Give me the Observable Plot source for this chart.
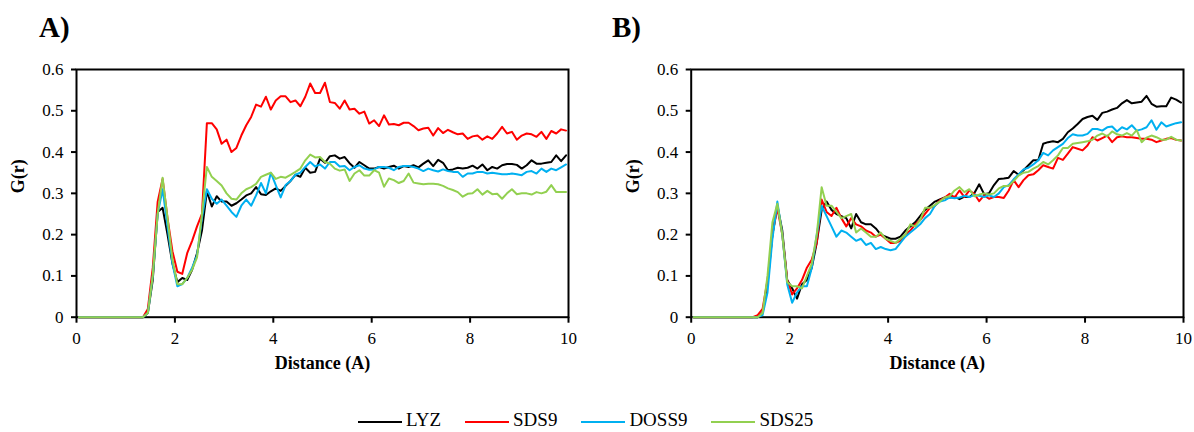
<!DOCTYPE html>
<html>
<head>
<meta charset="utf-8">
<script src="https://cdn.jsdelivr.net/npm/d3@7"></script>
<script src="https://cdn.jsdelivr.net/npm/@observablehq/plot@0.6"></script>
<style>
  html, body { margin: 0; padding: 0; background: #fff; }
  body { font-family: "Liberation Serif", "Times New Roman", serif; color: #000; }
  #wrap { position: relative; width: 1194px; height: 432px; overflow: hidden; background: #fff; }
  .panel { position: absolute; top: 0; }
  .plabel { position: absolute; font-weight: bold; font-size: 29px; line-height: 29px; }
  #legend { position: absolute; left: 358px; top: 410px; display: flex; align-items: center;
            font-size: 19px; line-height: 19px; white-space: nowrap; }
  #legend .sw { display: inline-block; width: 44px; height: 2px; margin-right: 4px; position: relative; top: 2px; }
  #legend .tx { margin-right: 24px; }
</style>
</head>
<body>
<div id="wrap">
  <div id="pA" class="panel" style="left:0px"></div>
  <div id="pB" class="panel" style="left:597px"></div>
  <div class="plabel" style="left:39px; top:13px">A)</div>
  <div class="plabel" style="left:612px; top:13px">B)</div>
  <div id="legend"></div>
</div>
<script>
// Distance grid (Å), bin centres
const distance = [
  0.05,0.15,0.25,0.35,0.45,0.55,0.65,0.75,0.85,0.95,
  1.05,1.15,1.25,1.35,1.45,1.55,1.65,1.75,1.85,1.95,
  2.05,2.15,2.25,2.35,2.45,2.55,2.65,2.75,2.85,2.95,
  3.05,3.15,3.25,3.35,3.45,3.55,3.65,3.75,3.85,3.95,
  4.05,4.15,4.25,4.35,4.45,4.55,4.65,4.75,4.85,4.95,
  5.05,5.15,5.25,5.35,5.45,5.55,5.65,5.75,5.85,5.95,
  6.05,6.15,6.25,6.35,6.45,6.55,6.65,6.75,6.85,6.95,
  7.05,7.15,7.25,7.35,7.45,7.55,7.65,7.75,7.85,7.95,
  8.05,8.15,8.25,8.35,8.45,8.55,8.65,8.75,8.85,8.95,
  9.05,9.15,9.25,9.35,9.45,9.55,9.65,9.75,9.85,9.95
];

const seriesNames = ["LYZ", "SDS9", "DOSS9", "SDS25"];
const seriesColors = ["#000000", "#ff0000", "#00b0f0", "#92d050"];
const panelLabels = ["A)", "B)"];
const xTicks = [0, 2, 4, 6, 8, 10];
const yTicks = [0, 0.1, 0.2, 0.3, 0.4, 0.5, 0.6];
const xLabel = "Distance (A)";
const yLabel = "G(r)";

// Panel A
const lyzA = [
  0,0,0,0,0,0,0,0,0,0,
  0,0,0,0,0.01,0.09,0.255,0.265,0.2,0.13,
  0.085,0.095,0.09,0.115,0.155,0.21,0.305,0.268,0.293,0.28,
  0.28,0.27,0.276,0.285,0.295,0.30,0.315,0.298,0.296,0.305,
  0.312,0.306,0.318,0.33,0.345,0.34,0.362,0.35,0.352,0.384,
  0.374,0.39,0.392,0.384,0.388,0.373,0.362,0.376,0.368,0.36,
  0.36,0.364,0.36,0.364,0.367,0.36,0.366,0.364,0.368,0.363,
  0.372,0.38,0.366,0.381,0.374,0.356,0.358,0.362,0.36,0.362,
  0.367,0.36,0.37,0.356,0.364,0.36,0.368,0.371,0.371,0.369,
  0.36,0.368,0.38,0.372,0.372,0.374,0.376,0.392,0.378,0.392
];
const sds9A = [
  0,0,0,0,0,0,0,0,0,0,
  0,0,0,0,0.02,0.12,0.28,0.335,0.24,0.16,
  0.11,0.105,0.155,0.185,0.22,0.25,0.47,0.47,0.455,0.42,
  0.43,0.40,0.41,0.44,0.465,0.485,0.515,0.51,0.534,0.503,
  0.525,0.535,0.535,0.521,0.525,0.511,0.534,0.566,0.543,0.543,
  0.568,0.521,0.519,0.505,0.525,0.503,0.505,0.493,0.498,0.469,
  0.477,0.463,0.489,0.467,0.468,0.465,0.471,0.471,0.463,0.453,
  0.457,0.459,0.44,0.458,0.446,0.454,0.448,0.443,0.445,0.432,
  0.438,0.44,0.43,0.438,0.432,0.445,0.461,0.445,0.449,0.43,
  0.44,0.445,0.443,0.437,0.449,0.432,0.451,0.445,0.455,0.452
];
const doss9A = [
  0,0,0,0,0,0,0,0,0,0,
  0,0,0,0,0.01,0.1,0.25,0.31,0.22,0.13,
  0.075,0.08,0.095,0.12,0.15,0.24,0.31,0.287,0.275,0.285,
  0.27,0.255,0.243,0.27,0.285,0.27,0.295,0.325,0.30,0.35,
  0.32,0.29,0.32,0.33,0.345,0.35,0.364,0.376,0.365,0.37,
  0.36,0.376,0.376,0.365,0.366,0.356,0.364,0.368,0.36,0.357,
  0.358,0.364,0.364,0.362,0.356,0.364,0.366,0.366,0.364,0.36,
  0.354,0.36,0.356,0.353,0.358,0.354,0.352,0.352,0.34,0.348,
  0.348,0.352,0.352,0.348,0.35,0.348,0.346,0.346,0.348,0.346,
  0.344,0.352,0.354,0.348,0.36,0.352,0.36,0.356,0.363,0.37
];
const sds25A = [
  0,0,0,0,0,0,0,0,0,0,
  0,0,0,0,0.01,0.1,0.25,0.338,0.24,0.14,
  0.08,0.08,0.095,0.115,0.145,0.25,0.364,0.34,0.33,0.319,
  0.30,0.287,0.285,0.30,0.31,0.315,0.323,0.34,0.345,0.35,
  0.335,0.34,0.338,0.345,0.352,0.36,0.38,0.394,0.387,0.388,
  0.376,0.372,0.36,0.355,0.358,0.33,0.348,0.356,0.343,0.343,
  0.356,0.35,0.316,0.336,0.332,0.325,0.33,0.348,0.326,0.324,
  0.322,0.323,0.323,0.322,0.318,0.312,0.308,0.303,0.292,0.299,
  0.30,0.31,0.297,0.306,0.298,0.299,0.287,0.30,0.31,0.298,
  0.30,0.30,0.297,0.303,0.30,0.304,0.32,0.303,0.303,0.303
];

// Panel B
const lyzB = [
  0,0,0,0,0,0,0,0,0,0,
  0,0,0,0,0.01,0.08,0.2,0.27,0.21,0.09,
  0.07,0.045,0.08,0.09,0.12,0.18,0.26,0.28,0.26,0.25,
  0.245,0.24,0.215,0.25,0.23,0.225,0.225,0.215,0.2,0.195,
  0.19,0.19,0.195,0.21,0.22,0.23,0.245,0.26,0.27,0.28,
  0.285,0.29,0.29,0.292,0.286,0.292,0.291,0.30,0.322,0.298,
  0.30,0.32,0.335,0.336,0.338,0.354,0.345,0.356,0.368,0.38,
  0.38,0.42,0.424,0.426,0.424,0.432,0.448,0.457,0.468,0.48,
  0.485,0.488,0.478,0.495,0.498,0.503,0.507,0.518,0.526,0.518,
  0.52,0.522,0.536,0.517,0.51,0.511,0.511,0.532,0.527,0.52
];
const sds9B = [
  0,0,0,0,0,0,0,0,0,0,
  0,0,0,0.005,0.02,0.09,0.2,0.265,0.2,0.09,
  0.055,0.07,0.09,0.12,0.14,0.18,0.285,0.255,0.245,0.265,
  0.24,0.22,0.24,0.225,0.22,0.21,0.205,0.195,0.2,0.19,
  0.18,0.18,0.185,0.2,0.21,0.225,0.235,0.25,0.265,0.27,
  0.283,0.29,0.299,0.29,0.307,0.291,0.307,0.299,0.281,0.295,
  0.287,0.291,0.291,0.289,0.307,0.332,0.315,0.332,0.344,0.346,
  0.356,0.368,0.364,0.36,0.386,0.381,0.396,0.412,0.408,0.404,
  0.416,0.436,0.428,0.434,0.44,0.424,0.436,0.438,0.436,0.436,
  0.434,0.432,0.432,0.43,0.424,0.428,0.432,0.434,0.43,0.428
];
const doss9B = [
  0,0,0,0,0,0,0,0,0,0,
  0,0,0,0,0.005,0.06,0.19,0.28,0.2,0.08,
  0.035,0.06,0.075,0.075,0.12,0.2,0.27,0.245,0.22,0.195,
  0.21,0.205,0.195,0.185,0.19,0.175,0.18,0.165,0.17,0.165,
  0.162,0.165,0.18,0.195,0.205,0.215,0.225,0.24,0.25,0.27,
  0.28,0.283,0.29,0.288,0.29,0.294,0.291,0.296,0.294,0.291,
  0.295,0.291,0.30,0.315,0.32,0.334,0.346,0.358,0.362,0.37,
  0.38,0.398,0.392,0.404,0.412,0.42,0.434,0.443,0.44,0.44,
  0.444,0.456,0.456,0.452,0.46,0.462,0.45,0.46,0.455,0.465,
  0.452,0.455,0.46,0.477,0.454,0.472,0.462,0.466,0.47,0.472
];
const sds25B = [
  0,0,0,0,0,0,0,0,0,0,
  0,0,0,0,0.01,0.1,0.23,0.275,0.2,0.085,
  0.075,0.075,0.07,0.1,0.13,0.2,0.315,0.27,0.27,0.255,
  0.24,0.245,0.25,0.205,0.215,0.205,0.195,0.195,0.205,0.19,
  0.185,0.18,0.19,0.2,0.225,0.22,0.235,0.265,0.265,0.272,
  0.28,0.29,0.293,0.307,0.315,0.303,0.31,0.293,0.297,0.30,
  0.297,0.30,0.312,0.318,0.318,0.33,0.343,0.35,0.352,0.36,
  0.366,0.376,0.37,0.38,0.392,0.41,0.41,0.42,0.422,0.424,
  0.426,0.43,0.44,0.445,0.438,0.45,0.443,0.44,0.446,0.44,
  0.453,0.424,0.435,0.44,0.436,0.43,0.43,0.437,0.43,0.428
];

const fontFamily = "'Liberation Serif', 'Times New Roman', serif";

function makePanel(seriesValues, marginLeft, marginRight) {
  return Plot.plot({
    width: 597,
    height: 400,
    marginLeft,
    marginRight,
    marginTop: 69,
    marginBottom: 83.3,
    x: { domain: [0, 10] },
    y: { domain: [0, 0.6] },
    style: { fontFamily, fontSize: "17px", color: "#000", background: "transparent", overflow: "visible" },
    marks: [
      Plot.frame({ stroke: "#000", strokeWidth: 2 }),
      Plot.axisX({ ticks: xTicks, tickSize: 6, tickPadding: 9, fontSize: 17, label: null, strokeWidth: 2 }),
      Plot.axisY({ ticks: yTicks, tickSize: 5, tickPadding: 8, fontSize: 17, label: null, strokeWidth: 2,
                   tickFormat: d3.format("~g") }),
      Plot.text([xLabel], { text: d => d, frameAnchor: "bottom", dy: 52, fontWeight: "bold", fontSize: 18 }),
      Plot.text([yLabel], { text: d => d, frameAnchor: "left", dx: -58, rotate: -90, fontWeight: "bold", fontSize: 18 }),
      ...seriesValues.map((vals, i) =>
        Plot.line(vals, { x: distance, y: d => d, stroke: seriesColors[i], strokeWidth: 2, curve: "linear" })
      )
    ]
  });
}

document.getElementById("pA").appendChild(makePanel([lyzA, sds9A, doss9A, sds25A], 76, 29));
document.getElementById("pB").appendChild(makePanel([lyzB, sds9B, doss9B, sds25B], 93.7, 11));

const legend = document.getElementById("legend");
seriesNames.forEach((name, i) => {
  const sw = document.createElement("span");
  sw.className = "sw";
  sw.style.background = seriesColors[i];
  const tx = document.createElement("span");
  tx.className = "tx";
  tx.textContent = name;
  legend.appendChild(sw);
  legend.appendChild(tx);
});
</script>
</body>
</html>
